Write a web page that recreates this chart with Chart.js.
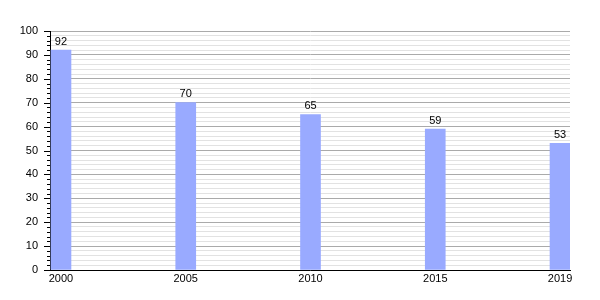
<!DOCTYPE html>
<html>
<head>
<meta charset="utf-8">
<script src="https://cdn.jsdelivr.net/npm/chart.js@4/dist/chart.umd.min.js"></script>
<style>
  html, body { margin: 0; padding: 0; background: #fff; }
  #wrap { width: 600px; height: 300px; }
</style>
</head>
<body>
<div id="wrap"><canvas id="chrt"></canvas></div>
<script>
var years = ['2000', '2005', '2010', '2015', '2019']
var values = [92, 70, 65, 59, 53]

// value labels above each bar
const BarLabels = {
  id: 'BarLabels',
  afterDatasetsDraw(chart) {
    const ctx = chart.ctx
    const meta = chart.getDatasetMeta(0)
    ctx.save()
    ctx.fillStyle = '#000'
    ctx.font = '11px "Liberation Sans", Arial, sans-serif'
    ctx.textAlign = 'center'
    ctx.textBaseline = 'bottom'
    meta.data.forEach((bar, i) => {
      ctx.fillText(values[i], bar.x, bar.y - 3)
    })
    ctx.restore()
  }
}

// small tick marks left of the y axis
const YTicks = {
  id: 'YTicks',
  afterDraw(chart) {
    const ctx = chart.ctx
    const y = chart.scales.y
    const left = chart.chartArea.left
    ctx.save()
    ctx.strokeStyle = '#000'
    ctx.lineWidth = 1
    y.ticks.forEach(t => {
      var py = Math.round(y.getPixelForValue(t.value)) + 0.5
      var len = (t.value % 10 === 0) ? 6 : 3
      ctx.beginPath()
      ctx.moveTo(left - len, py)
      ctx.lineTo(left, py)
      ctx.stroke()
    })
    ctx.restore()
  }
}

const _data = {
  datasets: [{
    data: values.map((v, i) => ({x: i, y: v})),
    backgroundColor: '#99aaff',
    borderWidth: 0,
    barThickness: 20
  }]
}

const _config = {
  type: 'bar',
  data: _data,
  plugins: [BarLabels, YTicks],
  options: {
    responsive: true,
    maintainAspectRatio: false,
    animation: false,
    layout: { padding: { left: 0, top: 31, right: 30, bottom: 0 } },
    plugins: { legend: { display: false }, tooltip: { enabled: false } },
    scales: {
      x: {
        type: 'linear',
        offset: false,
        min: -0.088,
        max: 4.08,
        afterFit: (s) => { s.height = 30 },
        afterBuildTicks: (s) => { s.ticks = years.map((y, i) => ({value: i})) },
        grid: { display: false, drawTicks: false },
        border: { display: true, color: '#000', width: 1 },
        ticks: {
          autoSkip: false,
          padding: 2,
          maxRotation: 0,
          color: '#000',
          font: { family: '"Liberation Sans", Arial, sans-serif', size: 11 },
          callback: (v) => years[v]
        }
      },
      y: {
        min: 0,
        max: 100,
        afterFit: (s) => { s.width = 50 },
        grid: {
          drawTicks: false,
          color: (c) => (c.tick && c.tick.value % 10 === 0) ? '#aaaaaa' : '#e2e2e2'
        },
        border: { display: true, color: '#000', width: 1 },
        ticks: {
          stepSize: 2,
          autoSkip: false,
          padding: 12,
          color: '#000',
          font: { family: '"Liberation Sans", Arial, sans-serif', size: 11 },
          callback: (v) => v % 10 === 0 ? v : ''
        }
      }
    }
  }
}

const myChart = new Chart(document.getElementById('chrt'), _config)
</script>
</body>
</html>
